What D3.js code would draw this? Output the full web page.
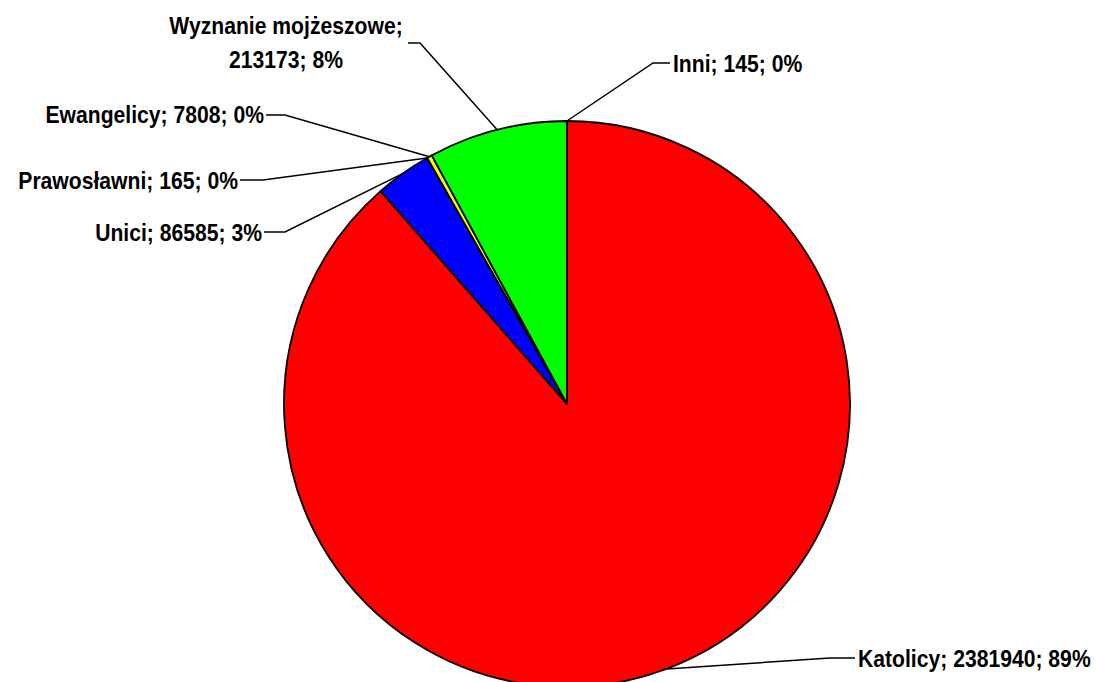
<!DOCTYPE html>
<html>
<head>
<meta charset="utf-8">
<script src="https://cdn.jsdelivr.net/npm/d3@7"></script>
<style>
  body { margin: 0; background: #fff; }
  text { font-family: "Liberation Sans Narrow", "Liberation Sans", Arial, sans-serif; font-weight: bold; font-size: 23px; fill: #000; }
</style>
</head>
<body>
<script>
// data
let names = ['Katolicy', 'Unici', 'Prawosławni', 'Ewangelicy', 'Wyznanie mojżeszowe', 'Inni'];
let counts = [2381940, 86585, 165, 7808, 213173, 145];
let colors = ['#ff0000', '#0000ff', '#ff00ff', '#ffff00', '#00ff00', '#00ffff'];

let width = 1103;
let height = 682;
let cx = 567, cy = 404, radius = 283;
let squeeze = 0.92; // reference font is a narrow face

// label placement: text anchor point + where the leader line elbow sits
let labelPos = [
  { x: 858, y: 667, anchor: 'start', elbow: [830, 658], end: [855, 658] },
  { x: 262, y: 241, anchor: 'end', elbow: [285, 232], end: [264, 232] },
  { x: 238, y: 189, anchor: 'end', elbow: [263, 180], end: [240, 180] },
  { x: 264, y: 123, anchor: 'end', elbow: [285, 115], end: [266, 115] },
  { x: 286, y: 34, anchor: 'middle', elbow: [420, 43], end: [408, 43], lines: 2 },
  { x: 673, y: 72, anchor: 'start', elbow: [653, 63], end: [670, 63] }
];

let data = names.map(function(n, i) { return { name: n, value: counts[i], color: colors[i], pos: labelPos[i] }; });
let total = d3.sum(counts);

let svg = d3.select('body').append('svg')
    .attr('width', width)
    .attr('height', height);

let g = svg.append('g')
    .attr('transform', 'translate(' + cx + ',' + cy + ')');

let pie = d3.pie().sort(null).value(function(d) { return d.value; });
let arc = d3.arc().innerRadius(0).outerRadius(radius);

let arcs = pie(data);

g.selectAll('path.slice')
  .data(arcs)
  .enter().append('path')
    .attr('class', 'slice')
    .attr('d', arc)
    .style('fill', function(d) { return d.data.color; })
    .style('stroke', '#000')
    .style('stroke-width', 1.8)
    .style('stroke-linejoin', 'round');

// leader lines from the middle of each slice's rim
function rimPoint(d) {
  let a = (d.startAngle + d.endAngle) / 2;
  return [cx + radius * Math.sin(a), cy - radius * Math.cos(a)];
}

svg.selectAll('polyline.leader')
  .data(arcs)
  .enter().append('polyline')
    .attr('class', 'leader')
    .attr('points', function(d) {
      let p = rimPoint(d);
      return [p, d.data.pos.elbow, d.data.pos.end].map(function(q) { return q.join(','); }).join(' ');
    })
    .style('fill', 'none')
    .style('stroke', '#000')
    .style('stroke-width', 1.5);

let fmt = function(d) { return Math.round(d.value / total * 100) + '%'; };

svg.selectAll('text.label')
  .data(arcs)
  .enter().append('text')
    .attr('class', 'label')
    .attr('transform', function(d) { return 'translate(' + d.data.pos.x + ',' + d.data.pos.y + ') scale(' + squeeze + ',1)'; })
    .attr('text-anchor', function(d) { return d.data.pos.anchor; })
    .each(function(d) {
      let t = d3.select(this);
      if (d.data.pos.lines === 2) {
        t.append('tspan').attr('x', 0).text(d.data.name + ';');
        t.append('tspan').attr('x', 0).attr('dy', 34).text(d.data.value + '; ' + fmt(d.data));
      } else {
        t.text(d.data.name + '; ' + d.data.value + '; ' + fmt(d.data));
      }
    });
</script>
</body>
</html>
